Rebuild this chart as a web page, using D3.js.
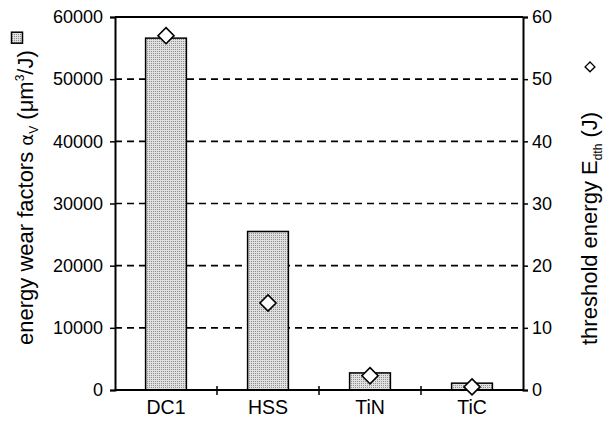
<!DOCTYPE html>
<html>
<head>
    <script src="https://d3js.org/d3.v7.min.js"></script>
    <style>
        body { margin: 0; background: #fff; }
        text { font-family: "Liberation Sans", Arial, sans-serif; fill: #000; }
    </style>
</head>
<body>
    <div id="chart"></div>

    <script>
        // data
        const materials = ["DC1", "HSS", "TiN", "TiC"];
        const wearFactors = [56600, 25500, 2750, 1100];   // left axis, um^3/J
        const thresholdEnergy = [57, 14, 2.3, 0.5];       // right axis, J
        const leftTicks = [0, 10000, 20000, 30000, 40000, 50000, 60000];
        const rightTicks = [0, 10, 20, 30, 40, 50, 60];

        const W = 604, H = 423;
        const margin = {top: 17, right: 81, bottom: 33, left: 115};
        const innerW = W - margin.left - margin.right;
        const innerH = H - margin.top - margin.bottom;

        const svg = d3.select("#chart")
            .append("svg")
            .attr("width", W)
            .attr("height", H);

        // dotted grey fill for the bars
        const defs = svg.append("defs");
        const pat = defs.append("pattern")
            .attr("id", "dots")
            .attr("patternUnits", "userSpaceOnUse")
            .attr("width", 2)
            .attr("height", 2);
        pat.append("rect").attr("width", 2).attr("height", 2).attr("fill", "#e0e0e0");
        pat.append("rect").attr("width", 1).attr("height", 1).attr("fill", "#8f8f8f");

        const g = svg.append("g")
            .attr("transform", `translate(${margin.left},${margin.top})`);

        const x = d3.scaleBand()
            .domain(materials)
            .range([0, innerW])
            .paddingInner(0.6)
            .paddingOuter(0.3);

        const yL = d3.scaleLinear().domain([0, 60000]).range([innerH, 0]);
        const yR = d3.scaleLinear().domain([0, 60]).range([innerH, 0]);

        // dashed grid
        g.selectAll(".grid")
            .data(leftTicks.filter(d => d > 0 && d < 60000))
            .enter()
            .append("line")
            .attr("x1", 0)
            .attr("x2", innerW)
            .attr("y1", d => yL(d))
            .attr("y2", d => yL(d))
            .attr("stroke", "#000")
            .attr("stroke-width", 1.6)
            .attr("stroke-dasharray", "7,5");

        // bars
        g.selectAll(".bar")
            .data(materials)
            .enter()
            .append("rect")
            .attr("x", d => x(d))
            .attr("width", x.bandwidth())
            .attr("y", (d, i) => yL(wearFactors[i]))
            .attr("height", (d, i) => innerH - yL(wearFactors[i]))
            .attr("fill", "url(#dots)")
            .attr("stroke", "#000")
            .attr("stroke-width", 1.5);

        // top border
        g.append("line")
            .attr("x1", 0).attr("x2", innerW)
            .attr("y1", 0).attr("y2", 0)
            .attr("stroke", "#000").attr("stroke-width", 2);

        // axes
        const axL = g.append("g")
            .call(d3.axisLeft(yL).tickValues(leftTicks).tickSize(5).tickPadding(7).tickFormat(d3.format("d")));
        const axR = g.append("g")
            .attr("transform", `translate(${innerW},0)`)
            .call(d3.axisRight(yR).tickValues(rightTicks).tickSize(5).tickPadding(4).tickFormat(d3.format("d")));
        const axB = g.append("g")
            .attr("transform", `translate(0,${innerH})`)
            .call(d3.axisBottom(x).tickSize(0).tickPadding(10));

        [axL, axR, axB].forEach(ax => {
            ax.select(".domain").attr("stroke", "#000").attr("stroke-width", 2);
            ax.selectAll(".tick line").attr("stroke", "#000").attr("stroke-width", 1.5);
            ax.selectAll("text").attr("font-size", 18).attr("font-family", "Liberation Sans, Arial, sans-serif");
        });
        axB.selectAll("text").attr("font-size", 19.5);
        axB.select(".domain").attr("d", `M0,0H${innerW}`);

        // category separators on the bottom axis
        axB.selectAll(".sep")
            .data(materials.slice(1))
            .enter()
            .append("line")
            .attr("x1", d => x(d) + x.bandwidth() / 2 - x.step() / 2)
            .attr("x2", d => x(d) + x.bandwidth() / 2 - x.step() / 2)
            .attr("y1", -4).attr("y2", 5)
            .attr("stroke", "#000").attr("stroke-width", 1.5);

        // diamonds
        const diamond = d3.symbol().type(d3.symbolDiamond2).size(165);
        g.selectAll(".pt")
            .data(materials)
            .enter()
            .append("path")
            .attr("d", diamond)
            .attr("transform", (d, i) => `translate(${x(d) + x.bandwidth() / 2},${yR(thresholdEnergy[i])})`)
            .attr("fill", "#fff")
            .attr("stroke", "#000")
            .attr("stroke-width", 1.6);

        // left title
        const tL = svg.append("text")
            .attr("transform", "translate(33,345) rotate(-90)")
            .attr("font-size", 22);
        tL.append("tspan").text("energy wear factors ");
        tL.append("tspan").text("α").attr("font-family", "DejaVu Sans").attr("font-size", 18);
        tL.append("tspan").text("V").attr("font-size", 12).attr("dy", 5);
        tL.append("tspan").text(" (μm").attr("dy", -5);
        tL.append("tspan").text("3").attr("font-size", 12).attr("dy", -9);
        tL.append("tspan").text("/J)").attr("dy", 9);
        const lenL = tL.node().getComputedTextLength();
        svg.append("rect")
            .attr("x", 17 - 5.5)
            .attr("y", 345 - lenL - 7 - 11)
            .attr("width", 11)
            .attr("height", 11)
            .attr("fill", "url(#dots)")
            .attr("stroke", "#000")
            .attr("stroke-width", 1.5);

        // right title
        const tR = svg.append("text")
            .attr("transform", "translate(597,345) rotate(-90)")
            .attr("font-size", 22);
        tR.append("tspan").text("threshold energy E");
        tR.append("tspan").text("dth").attr("font-size", 12).attr("dy", 5);
        tR.append("tspan").text(" (J)").attr("dy", -5);
        const lenR = tR.node().getComputedTextLength();
        svg.append("path")
            .attr("d", d3.symbol().type(d3.symbolDiamond2).size(60))
            .attr("transform", `translate(590,${345 - lenR - 45})`)
            .attr("fill", "#fff")
            .attr("stroke", "#000")
            .attr("stroke-width", 1.4);
    </script>
</body>
</html>
